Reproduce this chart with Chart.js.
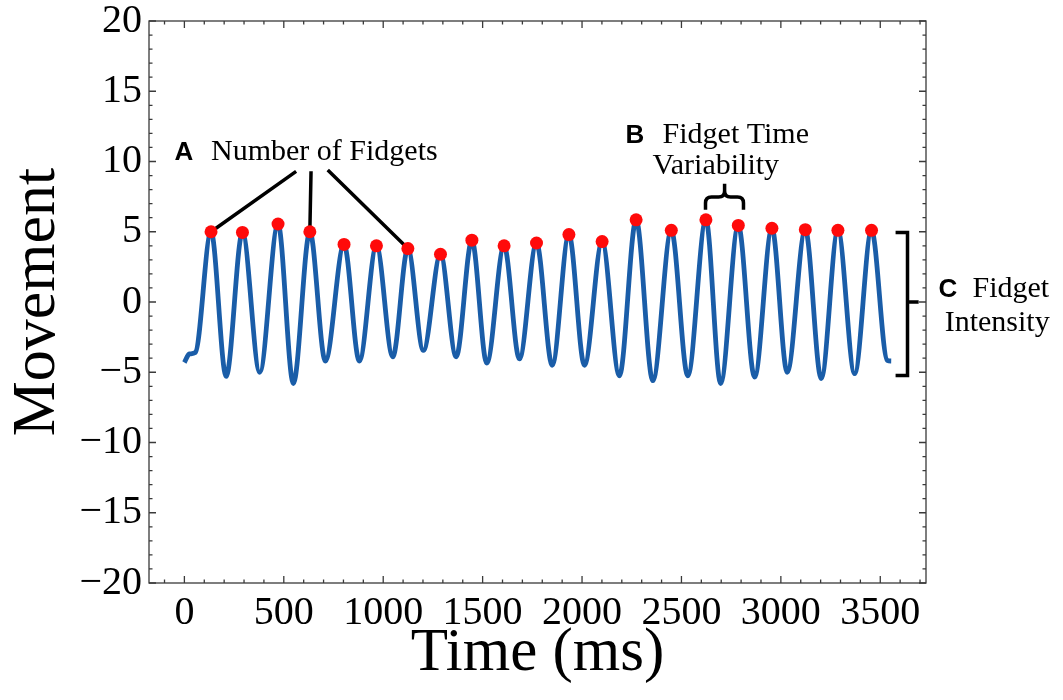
<!DOCTYPE html>
<html lang="en">
<head>
    <meta charset="UTF-8">
    <title>Fidget movement</title>
    <script src="https://cdn.jsdelivr.net/npm/chart.js"></script>
    <style>
        html, body { margin: 0; padding: 0; background: #fff; }
        #wrap { width: 1063px; height: 700px; }
    </style>
</head>
<body>
    <div id="wrap"><canvas id="myChart" width="1063" height="700"></canvas></div>

    <script>
        // movement trace (extrema + start/end)
        var timeMs = [0, 25, 55, 134, 210, 292, 379, 471, 548, 631, 709, 803, 880, 966, 1048, 1124,
                      1202, 1288, 1367, 1446, 1521, 1608, 1685, 1771, 1850, 1934, 2012, 2101, 2188,
                      2272, 2356, 2449, 2532, 2623, 2697, 2786, 2868, 2955, 3032, 3123, 3203, 3287,
                      3371, 3456, 3535, 3555];
        var movement = [-4.3, -3.7, -3.6, 5.0, -5.3, 4.95, -5.0, 5.55, -5.8, 5.0, -4.2, 4.1, -4.2, 4.0, -3.9, 3.8,
                        -3.45, 3.4, -3.9, 4.4, -4.35, 4.0, -4.05, 4.2, -4.5, 4.8, -4.5, 4.3, -5.25,
                        5.85, -5.6, 5.1, -5.25, 5.85, -5.8, 5.45, -5.35, 5.25, -5.0, 5.15, -5.45, 5.1,
                        -5.1, 5.1, -4.15, -4.2];

        // detected fidget peaks (red dots)
        var peakMs = [134, 292, 471, 631, 803, 966, 1124, 1288, 1446, 1608, 1771, 1934, 2101,
                      2272, 2449, 2623, 2786, 2955, 3123, 3287, 3456];
        var peakMovement = [5.0, 4.95, 5.55, 5.0, 4.1, 4.0, 3.8, 3.4, 4.4, 4.0, 4.2, 4.8, 4.3,
                            5.85, 5.1, 5.85, 5.45, 5.25, 5.15, 5.1, 5.1];

        var xTickValues = [0, 500, 1000, 1500, 2000, 2500, 3000, 3500];
        var yTickValues = [-20, -15, -10, -5, 0, 5, 10, 15, 20];

        var serif = '"Liberation Serif", "Times New Roman", serif';
        var sans = '"Liberation Sans", Arial, sans-serif';

        var lineData = timeMs.map(function(t, i) { return { x: t, y: movement[i] }; });
        var peakData = peakMs.map(function(t, i) { return { x: t, y: peakMovement[i] }; });

        function fmt(v) {
            return v < 0 ? '\u2212' + Math.abs(v) : String(v);
        }

        // inward major/minor ticks on all four sides plus the box
        var frameTicks = {
            id: 'frameTicks',
            afterDraw: function(chart) {
                var ctx = chart.ctx, a = chart.chartArea;
                var xs = chart.scales.x, ys = chart.scales.y;
                ctx.save();
                ctx.strokeStyle = '#3a3a3a';
                ctx.lineWidth = 1.3;
                ctx.strokeRect(a.left, a.top, a.right - a.left, a.bottom - a.top);
                ctx.beginPath();
                for (var v = -100; v <= 3700; v += 100) {
                    var px = xs.getPixelForValue(v);
                    var len = (v % 500 === 0) ? 7 : 3.5;
                    ctx.moveTo(px, a.bottom); ctx.lineTo(px, a.bottom - len);
                    ctx.moveTo(px, a.top); ctx.lineTo(px, a.top + len);
                }
                for (var w = -20; w <= 20; w += 1) {
                    var py = ys.getPixelForValue(w);
                    var l2 = (w % 5 === 0) ? 7 : 3.5;
                    ctx.moveTo(a.left, py); ctx.lineTo(a.left + l2, py);
                    ctx.moveTo(a.right, py); ctx.lineTo(a.right - l2, py);
                }
                ctx.stroke();
                ctx.restore();
            }
        };

        // labels A, B, C with their pointer lines and brackets
        var notes = {
            id: 'notes',
            beforeDatasetsDraw: function(chart) {
                var ctx = chart.ctx, xs = chart.scales.x, ys = chart.scales.y;
                var X = function(v) { return xs.getPixelForValue(v); };
                var Y = function(v) { return ys.getPixelForValue(v); };
                var starts = [[562, 9.3], [637, 9.3], [721, 9.4]];
                var targets = [0, 3, 6];
                ctx.save();
                ctx.strokeStyle = '#000';
                ctx.lineWidth = 3.5;
                ctx.beginPath();
                for (var i = 0; i < starts.length; i++) {
                    ctx.moveTo(X(starts[i][0]), Y(starts[i][1]));
                    ctx.lineTo(X(peakMs[targets[i]]), Y(peakMovement[targets[i]]));
                }
                ctx.stroke();
                ctx.restore();
            },
            afterDraw: function(chart) {
                var ctx = chart.ctx, xs = chart.scales.x, ys = chart.scales.y;
                var X = function(v) { return xs.getPixelForValue(v); };
                var Y = function(v) { return ys.getPixelForValue(v); };
                ctx.save();
                ctx.fillStyle = '#000';
                ctx.textBaseline = 'alphabetic';
                ctx.textAlign = 'left';

                ctx.font = 'bold 26px ' + sans;
                ctx.fillText('A', X(-50), Y(10.1));
                ctx.fillText('B', X(2219), Y(11.35));
                ctx.fillText('C', X(3793), Y(0.38));

                ctx.font = '30px ' + serif;
                ctx.fillText('Number of Fidgets', X(134), Y(10.1));
                ctx.fillText('Fidget Time', X(2405), Y(11.35));
                ctx.fillText('Variability', X(2354), Y(9.13));
                ctx.fillText('Fidget', X(3964), Y(0.38));
                ctx.fillText('Intensity', X(3824), Y(-2.03));

                ctx.strokeStyle = '#000';
                ctx.lineWidth = 3.5;
                ctx.lineJoin = 'miter';

                // curly brace over peaks 16-17
                var xl = X(2621), xr = X(2812), xc = X(2717);
                var yh = Y(7.48), yl = Y(6.56), yt = Y(8.41), r = 6;
                ctx.beginPath();
                ctx.moveTo(xl, yl);
                ctx.lineTo(xl, yh + r);
                ctx.quadraticCurveTo(xl, yh, xl + r, yh);
                ctx.lineTo(xc - r, yh);
                ctx.quadraticCurveTo(xc, yh, xc, yh - r);
                ctx.lineTo(xc, yt);
                ctx.moveTo(xc, yh - r);
                ctx.quadraticCurveTo(xc, yh, xc + r, yh);
                ctx.lineTo(xr - r, yh);
                ctx.quadraticCurveTo(xr, yh, xr, yh + r);
                ctx.lineTo(xr, yl);
                ctx.stroke();

                // square bracket on the right
                var xv = X(3637), xe = X(3577), xn = X(3693);
                ctx.beginPath();
                ctx.moveTo(xe, Y(4.95));
                ctx.lineTo(xv, Y(4.95));
                ctx.lineTo(xv, Y(-5.24));
                ctx.lineTo(xe, Y(-5.24));
                ctx.moveTo(xv, Y(0));
                ctx.lineTo(xn, Y(0));
                ctx.stroke();
                ctx.restore();
            }
        };

        var ctx = document.getElementById('myChart').getContext('2d');
        var myChart = new Chart(ctx, {
            data: {
                datasets: [{
                    type: 'scatter',
                    data: peakData,
                    pointRadius: 6.5,
                    pointHoverRadius: 6.5,
                    backgroundColor: '#ff0a0a',
                    borderWidth: 0
                }, {
                    type: 'line',
                    data: lineData,
                    borderColor: '#1a5da8',
                    borderWidth: 4.8,
                    pointRadius: 0,
                    fill: false,
                    cubicInterpolationMode: 'monotone'
                }]
            },
            options: {
                responsive: false,
                animation: false,
                events: [],
                layout: { padding: { left: 0, right: 137, top: 21, bottom: 0 } },
                plugins: {
                    legend: { display: false },
                    tooltip: { enabled: false }
                },
                scales: {
                    x: {
                        type: 'linear',
                        min: -178,
                        max: 3730,
                        grid: { display: false, drawTicks: false },
                        border: { display: false },
                        ticks: {
                            includeBounds: false,
                            padding: 6,
                            color: '#000',
                            font: { family: serif, size: 40 },
                            callback: function(v) { return fmt(v); }
                        },
                        afterBuildTicks: function(scale) {
                            scale.ticks = xTickValues.map(function(v) { return { value: v }; });
                        },
                        afterFit: function(scale) {
                            scale.height = 117;
                            scale.paddingLeft = 0;
                            scale.paddingRight = 0;
                        },
                        title: {
                            display: true,
                            text: 'Time (ms)',
                            color: '#000',
                            font: { family: serif, size: 61 },
                            padding: { top: 0, bottom: 9 }
                        }
                    },
                    y: {
                        type: 'linear',
                        min: -20,
                        max: 20,
                        grid: { display: false, drawTicks: false },
                        border: { display: false },
                        ticks: {
                            includeBounds: false,
                            padding: 7,
                            color: '#000',
                            font: { family: serif, size: 40 },
                            callback: function(v) { return fmt(v); }
                        },
                        afterBuildTicks: function(scale) {
                            scale.ticks = yTickValues.map(function(v) { return { value: v }; });
                        },
                        afterFit: function(scale) {
                            scale.width = 149;
                            scale.paddingTop = 0;
                            scale.paddingBottom = 0;
                        },
                        title: {
                            display: true,
                            text: 'Movement',
                            color: '#000',
                            font: { family: serif, size: 62 },
                            padding: { top: 1, bottom: 0 }
                        }
                    }
                }
            },
            plugins: [frameTicks, notes]
        });
    </script>
</body>
</html>
